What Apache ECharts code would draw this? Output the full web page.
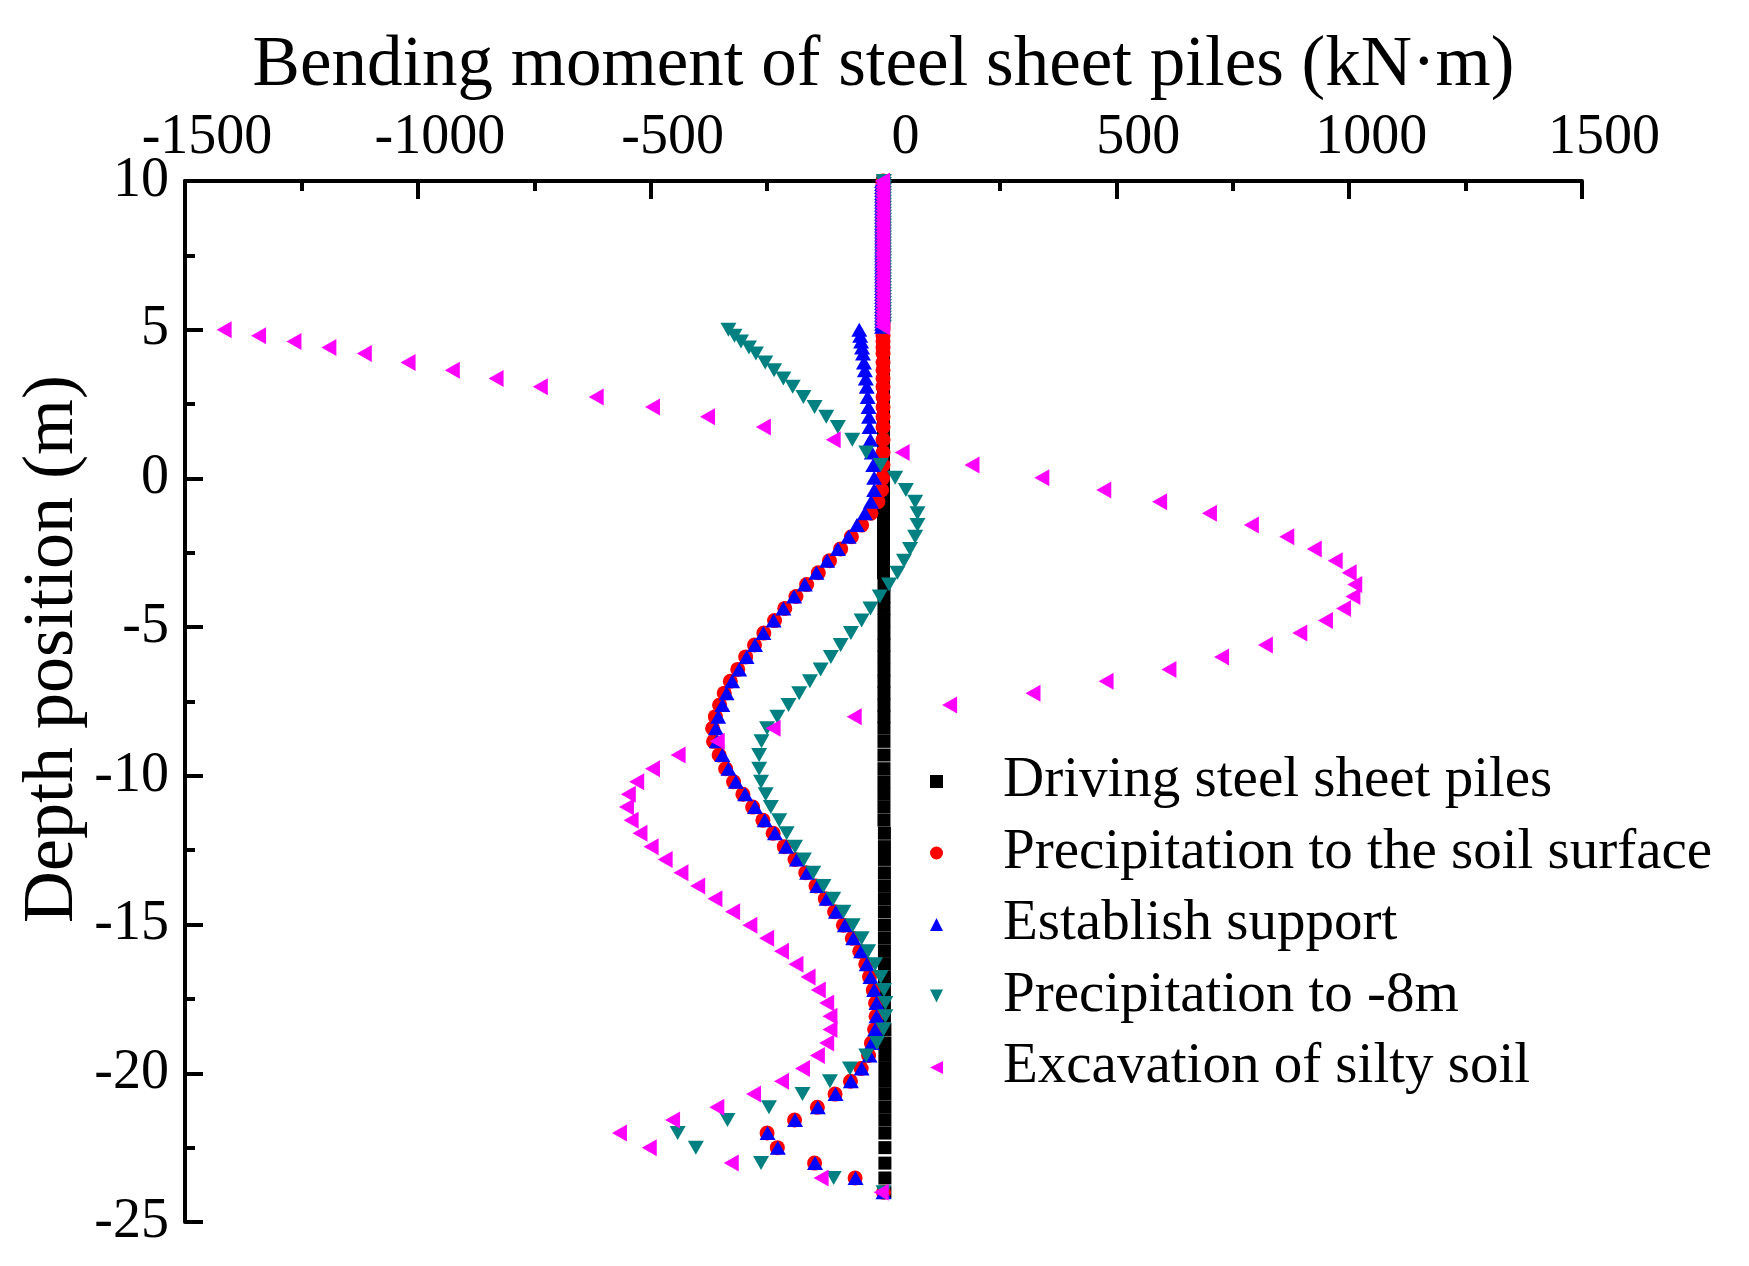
<!DOCTYPE html>
<html>
<head>
<meta charset="utf-8">
<title>Bending moment of steel sheet piles</title>
<script src="https://cdn.jsdelivr.net/npm/echarts@6/dist/echarts.min.js"></script>
<style>
html, body { margin: 0; padding: 0; background: #fff; }
#chart { width: 1749px; height: 1266px; }
</style>
</head>
<body>
<div id="chart"></div>
<script>
// pile part above 5 m, dense nodes (m)
var topDepth = [10.0, 9.9, 9.8, 9.7, 9.6, 9.5, 9.4, 9.3, 9.2, 9.1, 9.0, 8.9, 8.8, 8.7, 8.6, 8.5, 8.4, 8.3, 8.2, 8.1,
  8.0, 7.9, 7.8, 7.7, 7.6, 7.5, 7.4, 7.3, 7.2, 7.1, 7.0, 6.9, 6.8, 6.7, 6.6, 6.5, 6.4, 6.3, 6.2, 6.1,
  6.0, 5.9, 5.8, 5.7, 5.6, 5.5, 5.4, 5.3, 5.2, 5.1];

// nodes from 5 m down to the pile toe (m)
var depth = [5.0, 4.8, 4.6, 4.4, 4.2, 3.9, 3.64, 3.36, 3.08, 2.74, 2.4, 2.07, 1.73, 1.3, 0.87, 0.45, 0.02,
  -0.39, -0.78, -1.17, -1.57, -1.96, -2.37, -2.77, -3.17, -3.57, -3.97, -4.37, -4.78, -5.2, -5.6, -6.0,
  -6.42, -6.82, -7.22, -7.62, -8.01, -8.4, -8.84, -9.3, -9.76, -10.2, -10.62, -11.05, -11.49, -11.93,
  -12.38, -12.81, -13.26, -13.7, -14.13, -14.57, -15.02, -15.46, -15.9, -16.33, -16.76, -17.2, -17.64,
  -18.08, -18.53, -18.98, -19.4, -19.84, -20.27, -20.7, -21.14, -21.57, -22.01, -22.5, -23.02, -23.52, -24.0];

// bending moment (kN·m), top part
var topDriving = [-1,-1,-1,-1,-1,-1,-1,-1,-1,-1,-1,-1,-1,-1,-1,-1,-1,-1,-1,-1,-1,-1,-1,-1,-1,
  -1,-1,-1,-1,-1,-1,-1,-1,-1,-1,-1,-1,-1,-1,-1,-1,-1,-1,-1,-1,-1,-1,-1,-1,-1];
var topSurface = [-1,-1,-1,-1,-1,-1,-1,-1,-1,-1,-1,-1,-1,-1,-1,-1,-1,-1,-1,-1,-1,-1,-1,-1,-1,
  -1,-1,-1,-1,-1,-1,-1,-1,-1,-1,-1,-1,-1,-1,-1,-1,-1,-1,-1,-1,-1,-1,-1,-1,-1];
var topSupport = [-3,-3,-3,-3,-3,-3,-3,-3,-3,-3,-3,-3,-3,-3,-3,-3,-3,-3,-3,-3,-3,-3,-3,-3,-3,
  -3,-3,-3,-3,-3,-3,-3,-3,-3,-3,-3,-3,-3,-3,-3,-3,-3,-3,-3,-3,-3,-3,-3,-3,-3];
var topMinus8 = [1,1,1,1,1,1,1,1,1,1,1,1,1,1,1,1,1,1,1,1,1,1,1,1,1,
  1,1,1,1,1,1,1,1,1,1,1,1,1,1,1,1,1,1,1,1,1,1,1,1,1];
var topSilty = [-2,-2,-2,-2,-2,-2,-2,-2,-2,-2,-2,-2,-2,-2,-2,-2,-2,-2,-2,-2,-2,-2,-2,-2,-2,
  -2,-2,-2,-2,-2,-2,-2,-2,-2,-2,-2,-2,-2,-2,-2,-2,-2,-2,-2,-2,-2,-2,-2,-2,-2];

// bending moment (kN·m) at the nodes in depth[]
var driving = [0, 0, 0, 0, 0, 0, 0, 0, 0, 0, 0, 0, 0, 0, 0, 0, 0, 0, 0, 0, 0, 0, 0, 0, 0,
  1, 1, 1, 1, 1, 1, 1, 1, 1, 1, 1, 1, 1, 1, 1, 1, 1, 1, 1, 1,
  2, 2, 2, 2, 2, 2, 2, 2, 2, 2, 2, 2, 2, 2, 2,
  3, 3, 3, 3, 3, 3, 3, 3, 3, 3, 3, 3, 3];
var surface = [-1, -1, -1, -1, -1, -1, -1, -1, -1, -1, -1, -1, -1, -1, -1, -1, -2,
  -4, -12, -27, -47, -69, -92, -116, -140, -165, -188, -212, -234, -257, -277, -296,
  -313, -329, -342, -352, -361, -367, -365, -353, -339, -322, -302, -281, -259, -237,
  -213, -190, -167, -145, -125, -105, -86, -67, -51, -38, -30, -22, -17,
  -16, -19, -26, -32, -48, -71, -104, -142, -191, -250, -228, -148, -61, 0];
var support = [-52, -50, -48, -46, -44, -42, -40, -38, -36, -34, -32, -31, -30, -28, -25, -22, -20,
  -20, -27, -40, -57, -75, -98, -121, -144, -169, -192, -215, -236, -258, -276, -294,
  -310, -325, -337, -346, -355, -360, -358, -346, -333, -317, -297, -276, -255, -233,
  -209, -186, -164, -142, -122, -102, -83, -65, -48, -36, -28, -20, -15,
  -15, -18, -25, -30, -47, -70, -103, -141, -190, -249, -227, -147, -60, 0];
var minus8 = [-333, -320, -306, -289, -274, -254, -235, -215, -195, -172, -148, -123, -98, -67, -37, -6, 25,
  48, 68, 73, 73, 68, 57, 44, 30, 12, -8, -28, -47, -70, -92, -113,
  -135, -158, -181, -204, -228, -250, -262, -267, -267, -263, -253, -242, -224, -208,
  -190, -171, -151, -129, -108, -86, -66, -47, -33, -18, -6, 1, 4,
  4, 0, -14, -37, -72, -115, -174, -246, -335, -442, -403, -263, -107, 0];
var silty = [-1416, -1342, -1266, -1191, -1115, -1021, -926, -832, -737, -617, -496, -378, -258, -108, 40, 190, 340,
  473, 593, 700, 790, 866, 925, 970, 1000, 1012, 1008, 988, 949, 894, 820, 726,
  613, 478, 321, 142, -63, -237, -357, -441, -496, -530, -548, -552, -542, -523,
  -499, -469, -435, -399, -362, -324, -287, -251, -219, -188, -162, -140, -122,
  -115, -115, -122, -142, -174, -219, -279, -358, -453, -567, -503, -327, -134, -5];

var names = ['Driving steel sheet piles', 'Precipitation to the soil surface', 'Establish support',
  'Precipitation to -8m', 'Excavation of silty soil'];

var FONT = "'Times New Roman', 'Liberation Serif', serif";

function points(topX, x) {
  var out = [];
  topDepth.forEach(function (d, i) { out.push([topX[i], d]); });
  depth.forEach(function (d, i) { out.push([x[i], d]); });
  return out;
}

function makeSeries(name, topX, x, symbol, size, color) {
  return {
    name: name,
    type: 'scatter',
    data: points(topX, x),
    symbol: symbol,
    symbolSize: size,
    itemStyle: { color: color, opacity: 1 },
    emphasis: { disabled: true },
    clip: false
  };
}

var chart = echarts.init(document.getElementById('chart'));
chart.setOption({
  animation: false,
  backgroundColor: '#fff',
  grid: { left: 185, right: 167, top: 181, bottom: 44, outerBoundsMode: 'none' },
  xAxis: {
    type: 'value',
    position: 'top',
    min: -1500,
    max: 1500,
    interval: 500,
    axisLine: { show: true, onZero: false, lineStyle: { color: '#000', width: 4 } },
    axisTick: { show: true, inside: true, length: 18, lineStyle: { color: '#000', width: 4 } },
    minorTick: { show: true, splitNumber: 2, length: 10, lineStyle: { color: '#000', width: 4 } },
    axisLabel: {
      fontSize: 56, fontFamily: FONT, color: '#000', margin: 15, padding: [0, 0, 0, 44],
      formatter: function (v) { return String(v); }
    },
    splitLine: { show: false }
  },
  yAxis: {
    type: 'value',
    min: -25,
    max: 10,
    interval: 5,
    axisLine: { show: true, onZero: false, lineStyle: { color: '#000', width: 4 } },
    axisTick: { show: true, inside: true, length: 18, lineStyle: { color: '#000', width: 4 } },
    minorTick: { show: true, splitNumber: 2, length: 10, lineStyle: { color: '#000', width: 4 } },
    axisLabel: {
      fontSize: 56, fontFamily: FONT, color: '#000', margin: 16,
      formatter: function (v) { return String(v); }
    },
    splitLine: { show: false }
  },
  legend: {
    orient: 'vertical',
    left: 930,
    top: 753,
    padding: 0,
    itemWidth: 13,
    itemHeight: 13,
    itemGap: 14.5,
    selectedMode: false,
    textStyle: { fontSize: 57, fontFamily: FONT, color: '#000', lineHeight: 57, padding: [0, 0, 0, 55] },
    data: names
  },
  graphic: [
    {
      type: 'text',
      x: 883.5,
      y: 66,
      style: {
        text: 'Bending moment of steel sheet piles (kN\u00b7m)',
        fontSize: 71, fontFamily: FONT, fill: '#000',
        align: 'center', verticalAlign: 'middle'
      }
    },
    {
      type: 'text',
      x: 53,
      y: 649,
      rotation: Math.PI / 2,
      style: {
        text: 'Depth position (m)',
        fontSize: 72, fontFamily: FONT, fill: '#000',
        align: 'center', verticalAlign: 'middle'
      }
    }
  ],
  series: [
    makeSeries(names[0], topDriving, driving, 'path://M0,0L10,0L10,10L0,10Z', 13, '#000000'),
    makeSeries(names[1], topSurface, surface, 'circle', 15, '#ff0000'),
    makeSeries(names[2], topSupport, support, 'path://M5,0L10,10L0,10Z', [16, 14], '#0000ff'),
    makeSeries(names[3], topMinus8, minus8, 'path://M0,0L10,0L5,10Z', [16, 14], '#008080'),
    makeSeries(names[4], topSilty, silty, 'path://M0,5L10,0L10,10Z', [15, 17], '#ff00ff')
  ]
});
window.addEventListener('resize', function () { chart.resize(); });
</script>
</body>
</html>
